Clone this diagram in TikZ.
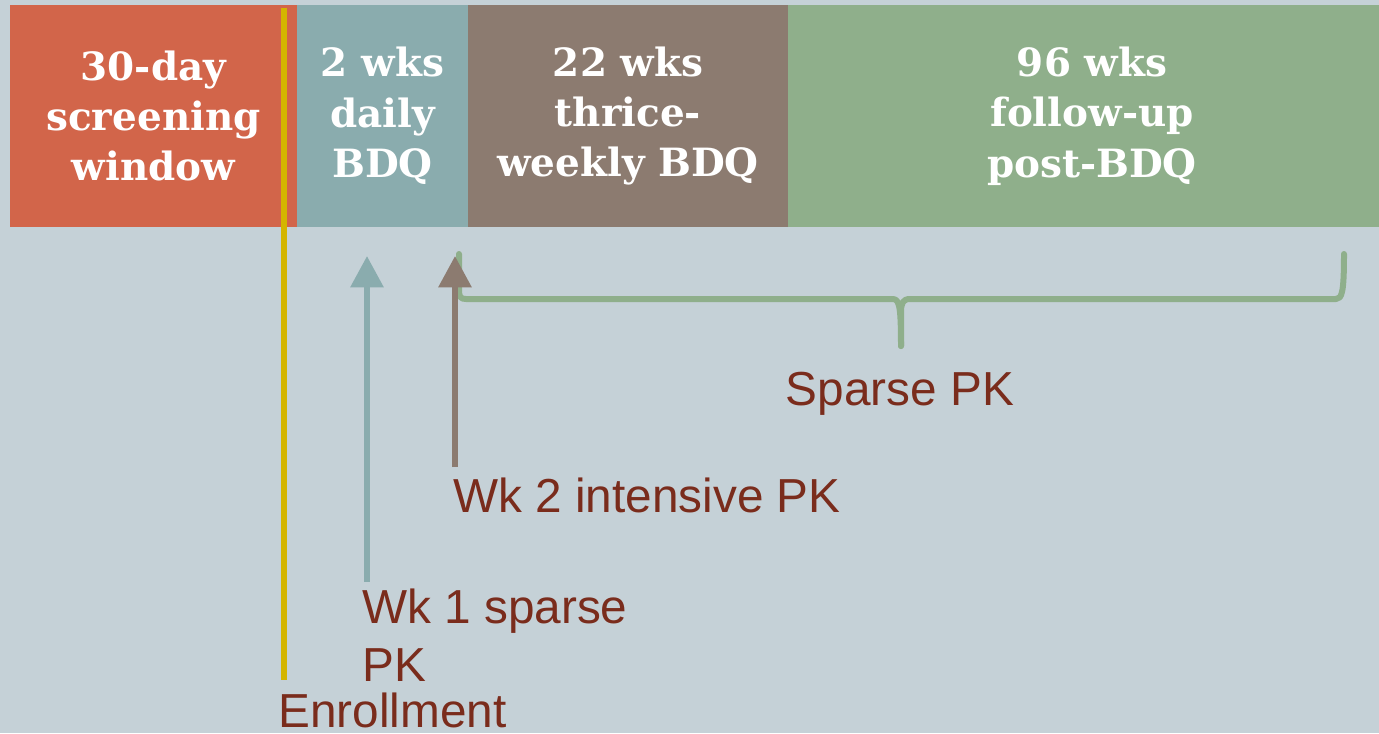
\documentclass[tikz,border=0pt]{standalone}
\usepackage{fontspec}
\setmainfont{Liberation Sans}
\newfontfamily\boxfont{DejaVu Serif}
\usetikzlibrary{arrows.meta}
\definecolor{bgc}{HTML}{C5D1D7}
\definecolor{orangec}{HTML}{D2654A}
\definecolor{tealc}{HTML}{8AACAE}
\definecolor{brownc}{HTML}{8C7B70}
\definecolor{greenc}{HTML}{8FAF8B}
\definecolor{yellowc}{HTML}{D4B500}
\definecolor{lblc}{HTML}{7A2C1C}
\tikzset{
  phase/.style={inner sep=0pt, minimum height=166.5pt, text=white, align=center,
    font=\boxfont\bfseries\fontsize{29.2pt}{37.8pt}\selectfont},
  lbl/.style={inner sep=0pt, text=lblc, font=\fontsize{35.8pt}{43.5pt}\selectfont},
  pkarrow/.style={line width=4.5pt, -{Triangle[width=24pt,length=23.5pt]}},
  bracec/.style={draw=greenc, line width=4.5pt, line cap=round, line join=round}
}
\begin{document}
\begin{tikzpicture}[x=0.75pt,y=-0.75pt]
\useasboundingbox (0,0) rectangle (1379,733);
\fill[bgc] (0,0) rectangle (1379,733);
% phase boxes
\node[phase, fill=orangec, minimum width=215.25pt] (scr) at (153.5,116) {30-day\\screening\\window};
\node[phase, fill=tealc, minimum width=128.25pt] (daily) at (382.5,116) {2 wks\\daily\\BDQ};
\node[phase, fill=brownc, minimum width=240pt] (thrice) at (628,116) {22 wks\\thrice-\\weekly BDQ};
\node[phase, fill=greenc, minimum width=456pt] (follow) at (1092,116) {96 wks\\follow-up\\post-BDQ};
% labels
\node[lbl, anchor=base west] (enr) at (278,727) {Enrollment};
\node[lbl, anchor=base west] (wk1a) at (362,623) {Wk 1 sparse};
\node[lbl, anchor=base west] (wk1b) at (362,681) {PK};
\node[lbl, anchor=base west] (wk2) at (453,512) {Wk 2 intensive PK};
\node[lbl, anchor=base] (sparse) at (900,405) {Sparse PK};
% enrollment line
\coordinate (ytop) at (284,8);
\coordinate (ybot) at (284,680);
\draw[yellowc, line width=4.2pt] (ytop) -- (ybot);
% PK arrows
\coordinate (t1s) at (367,582);
\coordinate (t1) at (367,256);
\draw[pkarrow, tealc] (t1s) -- (t1);
\coordinate (t2s) at (455,467);
\coordinate (t2) at (455,256);
% brace
\coordinate (bl) at (459,254);
\coordinate (br) at (1344,254);
\coordinate (bm) at (901,346);
\draw[bracec] (bl) -- (459,291) .. controls (459,297) and (461,299) .. (466,299)
  -- (892,299) .. controls (899,299) and (901,303) .. (bm);
\draw[bracec] (bm) -- (901,312) .. controls (901,303) and (903,299) .. (910,299)
  -- (1336,299) .. controls (1342,299) and (1344,292) .. (br);
\draw[pkarrow, brownc] (t2s) -- (t2);
\end{tikzpicture}
\end{document}
